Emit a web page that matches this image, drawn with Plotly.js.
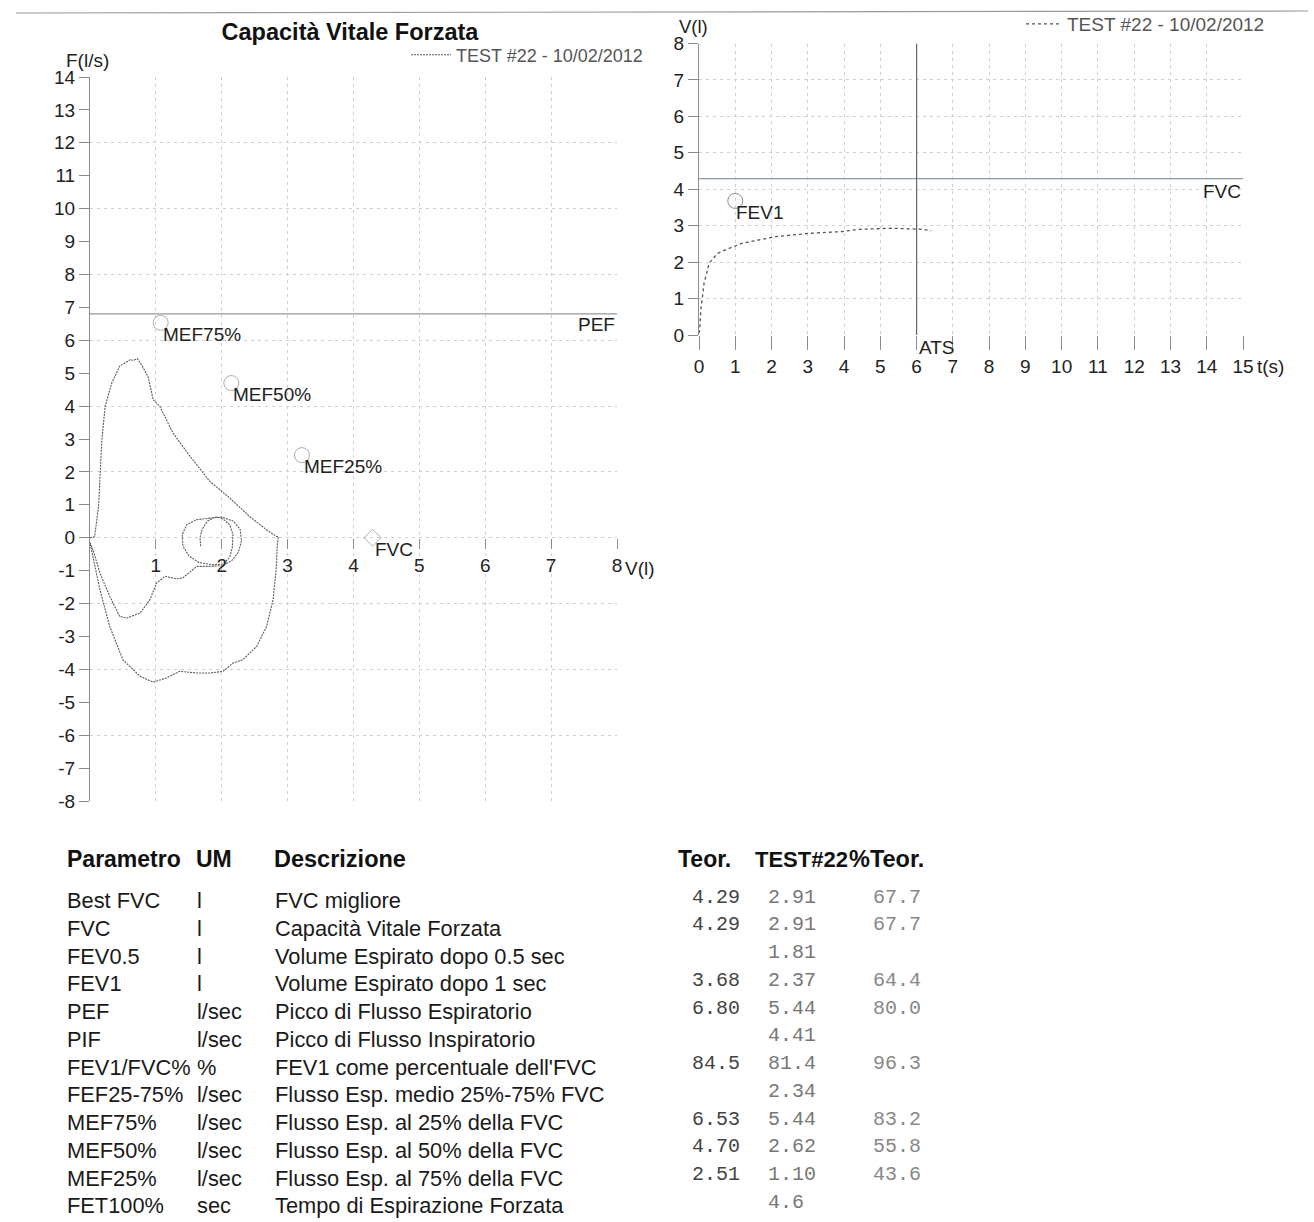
<!DOCTYPE html>
<html>
<head>
<meta charset="utf-8">
<script src="https://cdn.plot.ly/plotly-3.0.1.min.js"></script>
<style>
  html, body { margin: 0; padding: 0; background: #ffffff; }
  #chart { width: 1314px; height: 1222px; }
</style>
</head>
<body>
<div id="chart"></div>
<script>
// ---------------- DATA ----------------
const testName = 'TEST #22 - 10/02/2012';

// Flow-volume loop (volume l, flow l/s)
const fvVolume = [0, 0.07, 0.13, 0.18, 0.23, 0.33, 0.45, 0.61, 0.66, 0.72, 0.78, 0.88, 0.96, 1.06, 1.26, 1.52, 1.82, 2.12, 2.42, 2.68, 2.83, 2.86,
  2.84, 2.83, 2.78, 2.68, 2.53, 2.32, 2.17, 2.02, 1.82, 1.62, 1.36, 1.16, 0.96, 0.76, 0.50, 0.30, 0.15, 0.03, 0.0,
  0.05, 0.15, 0.30, 0.45, 0.56, 0.76, 0.91, 1.01, 1.14, 1.31, 1.41, 1.62, 1.82,
  2.00, 2.15, 2.25, 2.30, 2.28, 2.18, 2.00, 1.85, 1.62, 1.47, 1.40, 1.41, 1.50, 1.65, 1.85,
  2.02, 2.12, 2.16, 2.17, 2.12, 2.00, 1.90, 1.78, 1.70, 1.67, 1.68];
const fvFlow = [0, 0.03, 0.95, 2.98, 3.99, 4.70, 5.21, 5.41, 5.39, 5.44, 5.26, 4.90, 4.19, 3.99, 3.18, 2.47, 1.71, 1.21, 0.65, 0.24, 0.04, 0.03,
  -0.30, -0.87, -1.88, -2.70, -3.30, -3.71, -3.81, -4.06, -4.11, -4.11, -4.06, -4.26, -4.39, -4.21, -3.71, -2.70, -1.58, -0.47, -0.15,
  -0.40, -1.07, -1.78, -2.39, -2.44, -2.29, -1.88, -1.38, -1.17, -1.25, -1.22, -0.87, -0.87,
  -0.85, -0.70, -0.45, -0.10, 0.25, 0.50, 0.63, 0.60, 0.55, 0.40, 0.10, -0.25, -0.55, -0.75, -0.82,
  -0.80, -0.60, -0.30, 0.10, 0.40, 0.60, 0.63, 0.50, 0.25, 0.00, -0.26];

// Volume-time curve (t s, volume l)
const vtTime = [0, 0.02, 0.05, 0.14, 0.28, 0.51, 0.83, 1.20, 1.66, 2.12, 3.04, 3.96, 4.42, 5.34, 6.17, 6.40];
const vtVolume = [0.05, 0.14, 0.69, 1.42, 1.97, 2.24, 2.38, 2.52, 2.61, 2.70, 2.79, 2.84, 2.90, 2.93, 2.90, 2.86];

// Predicted reference marks
const mefLabels = ['MEF75%', 'MEF50%', 'MEF25%'];
const mefFraction = [0.25, 0.50, 0.75];
const atsTime = 6;

// Axis tick values
const fvFlowTicks = [-8, -7, -6, -5, -4, -3, -2, -1, 0, 1, 2, 3, 4, 5, 6, 7, 8, 9, 10, 11, 12, 13, 14];
const fvVolumeTicks = [1, 2, 3, 4, 5, 6, 7, 8];

// Results table
const params = ['Best FVC', 'FVC', 'FEV0.5', 'FEV1', 'PEF', 'PIF', 'FEV1/FVC%', 'FEF25-75%', 'MEF75%', 'MEF50%', 'MEF25%', 'FET100%'];
const units = ['l', 'l', 'l', 'l', 'l/sec', 'l/sec', '%', 'l/sec', 'l/sec', 'l/sec', 'l/sec', 'sec'];
const descr = ['FVC migliore', 'Capacità Vitale Forzata', 'Volume Espirato dopo 0.5 sec', 'Volume Espirato dopo 1 sec',
  'Picco di Flusso Espiratorio', 'Picco di Flusso Inspiratorio', "FEV1 come percentuale dell'FVC",
  'Flusso Esp. medio 25%-75% FVC', 'Flusso Esp. al 25% della FVC', 'Flusso Esp. al 50% della FVC',
  'Flusso Esp. al 75% della FVC', 'Tempo di Espirazione Forzata'];
const teor = ['4.29', '4.29', '', '3.68', '6.80', '', '84.5', '', '6.53', '4.70', '2.51', ''];
const test = ['2.91', '2.91', '1.81', '2.37', '5.44', '4.41', '81.4', '2.34', '5.44', '2.62', '1.10', '4.6'];
const pctTeor = ['67.7', '67.7', '', '64.4', '80.0', '', '96.3', '', '83.2', '55.8', '43.6', ''];

// ---------------- DERIVED ----------------
const teorFVC = Number(teor[params.indexOf('FVC')]);
const teorPEF = Number(teor[params.indexOf('PEF')]);
const teorFEV1 = Number(teor[params.indexOf('FEV1')]);
const mefValues = mefLabels.map(l => Number(teor[params.indexOf(l)]));
const markX = mefFraction.map(f => f * teorFVC).concat([teorFVC]);
const markY = mefValues.concat([0]);
const markText = mefLabels.concat(['FVC']);

// ---------------- LAYOUT HELPERS ----------------
const W = 1314, H = 1222;
const px = x => x / W;
const py = y => 1 - y / H;
const SANS = 'Liberation Sans, Arial, sans-serif';
const MONO = 'Liberation Mono, Courier New, monospace';
const GRID = '#cfcfcf';
const GDASH = '3px,4px';
const AXC = '#8c8c8c';
const labelFont = { family: SANS, size: 19, color: '#222' };

const traces = [
  { x: fvVolume, y: fvFlow, xaxis: 'x', yaxis: 'y', mode: 'lines', name: testName,
    line: { color: '#5a5a5a', width: 1.1, dash: '2px,1px' }, legend: 'legend', hoverinfo: 'skip' },
  { x: [0, 8], y: [teorPEF, teorPEF], xaxis: 'x', yaxis: 'y3', mode: 'lines', showlegend: false,
    line: { color: '#8f9a9a', width: 1.3 }, hoverinfo: 'skip' },
  { x: markX, y: markY, xaxis: 'x', yaxis: 'y', mode: 'markers', showlegend: false,
    marker: { symbol: ['circle-open', 'circle-open', 'circle-open', 'diamond-open'], size: [15, 15, 15, 13],
      color: '#8a8a8a', line: { width: 1 } }, hoverinfo: 'skip' },
  { x: vtTime, y: vtVolume, xaxis: 'x2', yaxis: 'y2', mode: 'lines', name: testName,
    line: { color: '#555', width: 1.3, dash: 'dot' }, legend: 'legend2', hoverinfo: 'skip' },
  { x: [0, 15], y: [teorFVC, teorFVC], xaxis: 'x2', yaxis: 'y2', mode: 'lines', showlegend: false,
    line: { color: '#8f9a9a', width: 1.3 }, hoverinfo: 'skip' },
  { x: [atsTime, atsTime], y: [0, 8], xaxis: 'x2', yaxis: 'y2', mode: 'lines', showlegend: false,
    line: { color: '#666', width: 1.2 }, hoverinfo: 'skip' },
  { x: [1], y: [teorFEV1], xaxis: 'x2', yaxis: 'y2', mode: 'markers', showlegend: false,
    marker: { symbol: 'circle-open', size: 15, color: '#8a8a8a', line: { width: 1 } }, hoverinfo: 'skip' }
];

const annotations = [
  { xref: 'x', yref: 'y', x: 8, y: teorPEF, text: 'PEF', showarrow: false, xanchor: 'right', yanchor: 'top',
    yshift: 2, font: labelFont },
  { xref: 'x2', yref: 'y2', x: 15, y: teorFVC, text: 'FVC', showarrow: false, xanchor: 'right', yanchor: 'top',
    font: labelFont },
  { xref: 'x2', yref: 'y2', x: atsTime, y: 0, text: 'ATS', showarrow: false, xanchor: 'left', yanchor: 'top',
    font: labelFont },
  { xref: 'x2', yref: 'y2', x: 1, y: teorFEV1, text: 'FEV1', showarrow: false, xanchor: 'left', yanchor: 'top',
    xshift: -1, yshift: 1, font: labelFont },
  { xref: 'paper', yref: 'paper', x: px(64), y: py(60), text: 'F(l/s)', showarrow: false, xanchor: 'left', yanchor: 'middle',
    font: labelFont },
  { xref: 'paper', yref: 'paper', x: px(623), y: py(568), text: 'V(l)', showarrow: false, xanchor: 'left', yanchor: 'middle',
    font: labelFont },
  { xref: 'paper', yref: 'paper', x: px(677), y: py(26), text: 'V(l)', showarrow: false, xanchor: 'left', yanchor: 'middle',
    font: { family: SANS, size: 18.5, color: '#222' } },
  { xref: 'paper', yref: 'paper', x: px(1255), y: py(366), text: 't(s)', showarrow: false, xanchor: 'left', yanchor: 'middle',
    font: labelFont }
];

markText.forEach((t, i) => {
  annotations.push({ xref: 'x', yref: 'y', x: markX[i], y: markY[i], text: t, showarrow: false,
    xanchor: 'left', yanchor: 'top', xshift: 0, yshift: 1, font: labelFont });
});

// Table headers
[['Parametro', 66, 23], ['UM', 195, 23], ['Descrizione', 273, 23.5], ['Teor.', 677, 23], ['TEST#22', 754, 22], ['%Teor.', 848, 23.5]].forEach(h => {
  annotations.push({ xref: 'paper', yref: 'paper', x: px(h[1]), y: py(859), text: '<b>' + h[0] + '</b>', showarrow: false,
    xanchor: 'left', yanchor: 'middle', font: { family: SANS, size: h[2], color: '#111' }, borderpad: 0 });
});

// Table rows
const rowStep = 27.75;
params.forEach((p, i) => {
  const yTxt = py(900.5 + i * rowStep);
  const yNum = py(897 + i * rowStep);
  const sf = { family: SANS, size: 21.8, color: '#1a1a1a' };
  annotations.push({ xref: 'paper', yref: 'paper', x: px(66), y: yTxt, text: p, showarrow: false, xanchor: 'left', yanchor: 'middle', font: sf, borderpad: 0 });
  annotations.push({ xref: 'paper', yref: 'paper', x: px(196), y: yTxt, text: units[i], showarrow: false, xanchor: 'left', yanchor: 'middle', font: sf, borderpad: 0 });
  annotations.push({ xref: 'paper', yref: 'paper', x: px(274), y: yTxt, text: descr[i], showarrow: false, xanchor: 'left', yanchor: 'middle', font: sf, borderpad: 0 });
  if (teor[i]) annotations.push({ xref: 'paper', yref: 'paper', x: px(741), y: yNum, text: teor[i], showarrow: false, xanchor: 'right', yanchor: 'middle',
    font: { family: MONO, size: 20, color: '#444' }, borderpad: 0 });
  if (test[i]) annotations.push({ xref: 'paper', yref: 'paper', x: px(767), y: yNum, text: test[i], showarrow: false, xanchor: 'left', yanchor: 'middle',
    font: { family: MONO, size: 20, color: '#777' }, borderpad: 0 });
  if (pctTeor[i]) annotations.push({ xref: 'paper', yref: 'paper', x: px(872), y: yNum, text: pctTeor[i], showarrow: false, xanchor: 'left', yanchor: 'middle',
    font: { family: MONO, size: 20, color: '#888' }, borderpad: 0 });
});

const tickFont = { family: SANS, size: 19, color: '#222' };

const layout = {
  width: W, height: H,
  margin: { l: 0, r: 0, t: 0, b: 0, pad: 0 },
  paper_bgcolor: '#ffffff', plot_bgcolor: 'rgba(0,0,0,0)',
  font: { family: SANS, color: '#222' },
  title: { text: '<b>Capacità Vitale Forzata</b>', x: px(350), xanchor: 'center', xref: 'paper',
    y: py(32), yanchor: 'middle', yref: 'paper', font: { family: SANS, size: 23.5, color: '#111' } },
  showlegend: true,
  legend: { x: px(406), xanchor: 'left', y: py(55), yanchor: 'middle', bgcolor: 'rgba(0,0,0,0)',
    itemwidth: 40, font: { family: SANS, size: 18, color: '#555' }, borderwidth: 0 },
  legend2: { x: px(1021), xanchor: 'left', y: py(24), yanchor: 'middle', bgcolor: 'rgba(0,0,0,0)',
    itemwidth: 36, font: { family: SANS, size: 19, color: '#555' }, borderwidth: 0 },
  xaxis: { domain: [px(90), px(617)], range: [0, 8], tickvals: fvVolumeTicks,
    anchor: 'free', position: py(538), showgrid: true, gridcolor: GRID, griddash: GDASH, gridwidth: 1,
    ticks: 'outside', ticklen: 10, tickcolor: AXC, showline: false, zeroline: false,
    tickfont: tickFont, fixedrange: true },
  yaxis: { domain: [py(801), py(77)], range: [-8, 14], tickvals: fvFlowTicks, ticktext: fvFlowTicks.map(String), anchor: 'x',
    showgrid: false, zeroline: false, showline: true, linecolor: AXC, linewidth: 1,
    ticks: 'outside', ticklen: 10, tickcolor: AXC, tickfont: tickFont, fixedrange: true },
  yaxis3: { overlaying: 'y', anchor: 'x', side: 'left', range: [-8, 14], dtick: 2, tick0: 0, showgrid: true,
    gridcolor: GRID, griddash: GDASH, gridwidth: 1, showticklabels: false, ticks: '', showline: false,
    zeroline: false, fixedrange: true },
  xaxis2: { domain: [px(699), px(1243)], range: [0, 15], dtick: 1, tick0: 0, anchor: 'y2',
    showgrid: true, gridcolor: GRID, griddash: GDASH, gridwidth: 1, zeroline: false, showline: false,
    ticks: 'outside', ticklen: 14, tickcolor: AXC, tickfont: tickFont, fixedrange: true },
  yaxis2: { domain: [py(335), py(43.5)], range: [0, 8], dtick: 1, tick0: 0, anchor: 'x2',
    showgrid: true, gridcolor: GRID, griddash: GDASH, gridwidth: 1, zeroline: false,
    showline: true, linecolor: AXC, linewidth: 1,
    ticks: 'outside', ticklen: 10, tickcolor: AXC, tickfont: tickFont, fixedrange: true },
  shapes: [
    { type: 'line', xref: 'paper', yref: 'paper', x0: px(16), x1: px(1308), y0: py(13), y1: py(11),
      line: { color: '#9a9a9a', width: 1.2 } }
  ],
  annotations: annotations
};

Plotly.newPlot('chart', traces, layout, { displayModeBar: false, staticPlot: true });
</script>
</body>
</html>
